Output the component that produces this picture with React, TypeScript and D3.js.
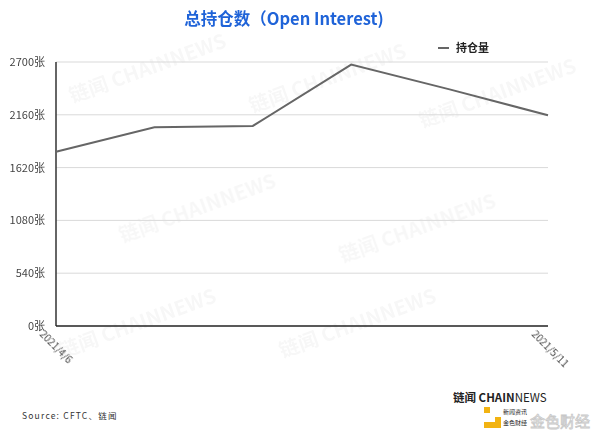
import React from "react";
import * as d3 from "d3";

const dates = ["2021/4/6", "2021/4/13", "2021/4/20", "2021/4/27", "2021/5/4", "2021/5/11"];
const openInterest = [1783, 2032, 2046, 2674, 2420, 2155];
const yTicks = [0, 540, 1080, 1620, 2160, 2700];
const shownDates = ["2021/4/6", "2021/5/11"];
const watermarks = [
  [150, 75], [330, 85], [500, 100], [200, 215], [420, 235], [140, 330], [360, 330],
];

const W = 600;
const H = 438;
const margin = { left: 56, right: 52, top: 62, bottom: 112 };
const font = "'Noto Sans CJK SC', 'Noto Sans', sans-serif";

export default function App() {
  const x = d3
    .scalePoint<string>()
    .domain(dates)
    .range([margin.left, W - margin.right]);
  const y = d3
    .scaleLinear()
    .domain([0, 2700])
    .range([H - margin.bottom, margin.top]);
  const line = d3
    .line<number>()
    .x((_, i) => x(dates[i]) as number)
    .y((d) => y(d));

  const x0 = margin.left;
  const x1 = W - margin.right;
  const yb = y(0);

  return (
    <svg
      width={W}
      height={H}
      style={{ position: "absolute", left: 0, top: 0, background: "#fff" }}
      fontFamily={font}
    >
      {/* faint background watermark */}
      <g fill="#000" opacity={0.035} fontWeight={700} fontSize={20}>
        {watermarks.map(([wx, wy], i) => (
          <text key={i} x={wx} y={wy} transform={`rotate(-20 ${wx} ${wy})`} textAnchor="middle">
            链闻 CHAINNEWS
          </text>
        ))}
      </g>

      <text x={284} y={25} textAnchor="middle" fill="#1f63d8" fontSize={16.5} fontWeight={700}>
        总持仓数（Open Interest)
      </text>

      {/* legend */}
      <line x1={438} x2={449} y1={48} y2={48} stroke="#333" strokeWidth={1.5} />
      <text x={456} y={52} fontSize={11} fontWeight={700} fill="#222">
        持仓量
      </text>

      {/* grid */}
      {yTicks.map((t) => (
        <g key={t}>
          {t > 0 && <line x1={x0} x2={x1} y1={y(t)} y2={y(t)} stroke="#d9d9d9" strokeWidth={1} />}
          <text x={45} y={y(t) + 4} textAnchor="end" fontSize={11} fill="#444">
            {t}张
          </text>
        </g>
      ))}

      {/* axes */}
      <line x1={x0} x2={x0} y1={margin.top} y2={yb} stroke="#333" strokeWidth={1.5} />
      <line x1={x0} x2={x1} y1={yb} y2={yb} stroke="#222" strokeWidth={1.5} />

      <path d={line(openInterest) ?? ""} fill="none" stroke="#666" strokeWidth={2} />

      {shownDates.map((d) => {
        const tx = (x(d) as number) - 17;
        const ty = yb + 9;
        return (
          <text key={d} x={tx} y={ty} transform={`rotate(45 ${tx} ${ty})`} fontSize={10} fill="#444">
            {d}
          </text>
        );
      })}

      <text x={22} y={419} fontSize={8.5} fill="#333" letterSpacing={1.2}>
        Source: CFTC、链闻
      </text>

      {/* branding */}
      <text x={453} y={402} fontSize={11.5} fontWeight={700} fill="#222">
        链闻 CHAIN<tspan fontWeight={400}>NEWS</tspan>
      </text>
      <rect x={484} y={407} width={6} height={6} fill="#f2b312" />
      <path d="M 495 417 L 501 417 L 501 428 L 484 428 L 484 422 L 495 422 Z" fill="#f2b312" />
      <text x={503} y={414} fontSize={6} fill="#222">新闻资讯</text>
      <text x={503} y={425} fontSize={6} fill="#222">金色财经</text>
      <text x={530} y={427} fontSize={15} fill="none" stroke="#c8c8c8" strokeWidth={0.8}>
        金色财经
      </text>
    </svg>
  );
}
